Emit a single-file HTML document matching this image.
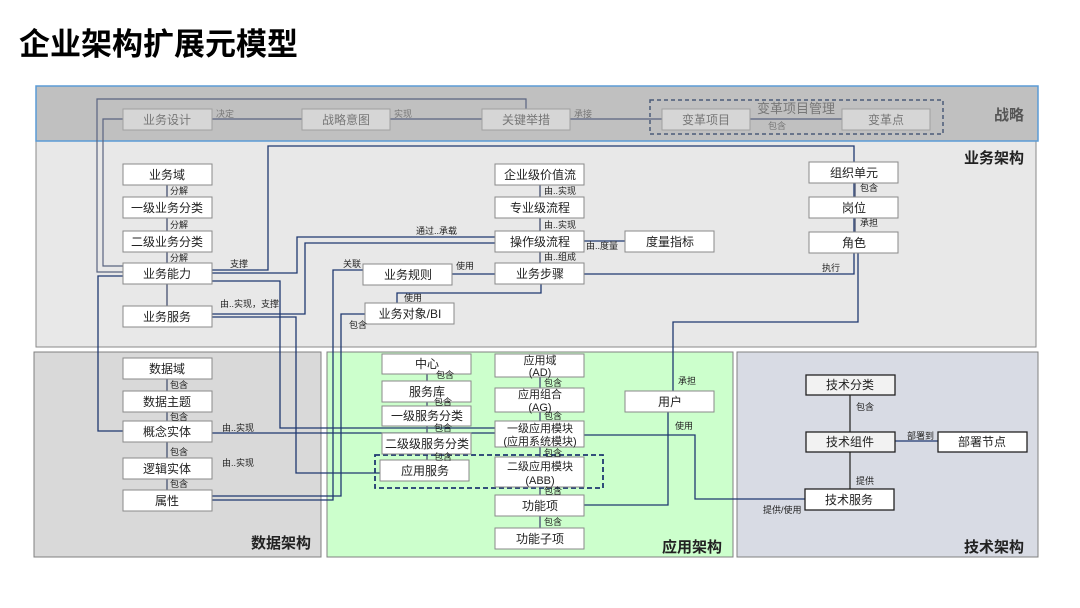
<!DOCTYPE html>
<html><head><meta charset="utf-8"><style>
html,body{margin:0;padding:0;background:#fff;width:1080px;height:608px;overflow:hidden}
text{font-family:"Liberation Sans","Noto Sans CJK SC",sans-serif}
</style></head><body>
<svg width="1080" height="608" viewBox="0 0 1080 608" xmlns="http://www.w3.org/2000/svg">
<text x="19" y="55" font-size="31" font-weight="bold" fill="#000">企业架构扩展元模型</text>

<!-- panels -->
<rect x="36" y="141" width="1000" height="206" fill="#e8e8e8" stroke="#8a8a8a" stroke-width="1"/>
<rect x="36" y="86" width="1002" height="55" fill="#c0c0c0" stroke="#5b9bd5" stroke-width="1.5"/>
<rect x="34" y="352" width="287" height="205" fill="#d9d9d9" stroke="#808080"/>
<rect x="327" y="352" width="406" height="205" fill="#ccffcc" stroke="#808080"/>
<rect x="737" y="352" width="301" height="205" fill="#d8dbe4" stroke="#808080"/>

<g font-size="15" font-weight="bold" fill="#222" text-anchor="end">
<text x="1024" y="120" fill="#555">战略</text>
<text x="1024" y="163">业务架构</text>
<text x="311" y="548">数据架构</text>
<text x="722" y="552">应用架构</text>
<text x="1024" y="552">技术架构</text>
</g>

<!-- strategy connectors -->
<g stroke="#5a6480" stroke-width="1.2" fill="none">
<polyline points="526,109 526,99 97,99 97,272 123,272"/>
<polyline points="123,119 103,119 103,266 123,266"/>
<line x1="212" y1="119" x2="302" y2="119"/>
<line x1="390" y1="119" x2="482" y2="119"/>
<line x1="570" y1="119" x2="662" y2="119"/>
<line x1="750" y1="119" x2="842" y2="119"/>
</g>
<rect x="650" y="100" width="293" height="34" fill="none" stroke="#4a5a78" stroke-width="1.5" stroke-dasharray="4,3"/>

<!-- navy connectors -->
<g stroke="#1f3870" stroke-width="1.3" fill="none">
<polyline points="212,270 268,270 268,146 854,146 854,274 584,274"/>
<polyline points="212,273 297,273 297,237 495,237"/>
<polyline points="212,314 305,314 305,243 495,243"/>
<polyline points="212,281 280,281 280,428 495,428"/>
<polyline points="212,317 296,317 296,473 380,473"/>
<polyline points="123,276 98,276 98,431 123,431"/>
<line x1="212" y1="433" x2="495" y2="433"/>
<polyline points="363,270 333,270 333,500 212,500"/>
<polyline points="365,314 341,314 341,496 212,496"/>
<line x1="452" y1="274" x2="495" y2="274"/>
<polyline points="541,284 541,293 397,293 397,303"/>
<line x1="584" y1="241" x2="625" y2="241"/>
<polyline points="858,253 858,322 673,322 673,391"/>
<polyline points="584,505 668,505 668,412"/>
<polyline points="584,435 695,435 695,499 805,499"/>
<line x1="895" y1="441" x2="938" y2="441"/>
</g>
<g stroke="#5a6480" stroke-width="1.5" fill="none">
<line x1="167" y1="185" x2="167" y2="306"/>
<line x1="540" y1="185" x2="540" y2="263"/>
<line x1="855" y1="183" x2="855" y2="232"/>
<line x1="167" y1="379" x2="167" y2="490"/>
<line x1="427" y1="374" x2="427" y2="460"/>
<line x1="540" y1="377" x2="540" y2="528"/>
</g>
<g stroke="#444" stroke-width="1.5"><line x1="850" y1="394" x2="850" y2="489"/></g>
<rect x="375" y="455" width="228" height="33" fill="none" stroke="#1f3870" stroke-width="1.8" stroke-dasharray="5,3"/>

<!-- strategy boxes -->
<g fill="#d6d6d6" stroke="#a0a0a0">
<rect x="123" y="109" width="89" height="21"/>
<rect x="302" y="109" width="88" height="21"/>
<rect x="482" y="109" width="88" height="21"/>
<rect x="662" y="109" width="88" height="21"/>
<rect x="842" y="109" width="88" height="21"/>
</g>
<g font-size="12" fill="#777" text-anchor="middle">
<text x="167" y="124">业务设计</text>
<text x="346" y="124">战略意图</text>
<text x="526" y="124">关键举措</text>
<text x="706" y="124">变革项目</text>
<text x="886" y="124">变革点</text>
<text x="796" y="113" font-size="13">变革项目管理</text>
</g>
<g font-size="9" fill="#777">
<text x="216" y="117">决定</text><text x="394" y="117">实现</text><text x="574" y="117">承接</text><text x="768" y="129">包含</text>
</g>

<!-- white boxes -->
<g fill="#fff" stroke="#8a8a8a">
<rect x="123" y="164" width="89" height="21"/><rect x="123" y="197" width="89" height="21"/>
<rect x="123" y="231" width="89" height="21"/><rect x="123" y="263" width="89" height="21"/>
<rect x="123" y="306" width="89" height="21"/>
<rect x="495" y="164" width="89" height="21"/><rect x="495" y="197" width="89" height="21"/>
<rect x="495" y="231" width="89" height="21"/><rect x="495" y="263" width="89" height="21"/>
<rect x="625" y="231" width="89" height="21"/>
<rect x="363" y="264" width="89" height="21"/><rect x="365" y="303" width="89" height="21"/>
<rect x="809" y="162" width="89" height="21"/><rect x="809" y="197" width="89" height="21"/>
<rect x="809" y="232" width="89" height="21"/>
<rect x="123" y="358" width="89" height="21"/><rect x="123" y="391" width="89" height="21"/>
<rect x="123" y="421" width="89" height="21"/><rect x="123" y="458" width="89" height="21"/>
<rect x="123" y="490" width="89" height="21"/>
<rect x="382" y="354" width="89" height="20"/><rect x="382" y="381" width="89" height="21"/>
<rect x="382" y="406" width="89" height="20"/><rect x="382" y="433" width="89" height="21"/>
<rect x="380" y="460" width="89" height="21"/>
<rect x="495" y="354" width="89" height="23"/><rect x="495" y="388" width="89" height="24"/>
<rect x="495" y="421" width="89" height="26"/><rect x="495" y="457" width="89" height="30"/>
<rect x="495" y="495" width="89" height="21"/><rect x="495" y="528" width="89" height="21"/>
<rect x="625" y="391" width="89" height="21"/>
</g>
<g fill="#f2f2f2" stroke="#222" stroke-width="1.3">
<rect x="806" y="375" width="89" height="20"/><rect x="806" y="432" width="89" height="20"/>
</g>
<g fill="#fff" stroke="#222" stroke-width="1.3">
<rect x="938" y="432" width="89" height="20"/><rect x="805" y="489" width="89" height="21"/>
</g>

<g font-size="12" fill="#222" text-anchor="middle">
<text x="167" y="179">业务域</text><text x="167" y="212">一级业务分类</text>
<text x="167" y="246">二级业务分类</text><text x="167" y="278">业务能力</text>
<text x="167" y="321">业务服务</text>
<text x="540" y="179">企业级价值流</text><text x="540" y="212">专业级流程</text>
<text x="540" y="246">操作级流程</text><text x="540" y="278">业务步骤</text>
<text x="670" y="246">度量指标</text>
<text x="408" y="279">业务规则</text><text x="410" y="318">业务对象/BI</text>
<text x="854" y="177">组织单元</text><text x="854" y="212">岗位</text><text x="854" y="247">角色</text>
<text x="167" y="373">数据域</text><text x="167" y="406">数据主题</text>
<text x="167" y="436">概念实体</text><text x="167" y="473">逻辑实体</text><text x="167" y="505">属性</text>
<text x="427" y="368">中心</text><text x="427" y="396">服务库</text>
<text x="427" y="420">一级服务分类</text><text x="427" y="448">二级级服务分类</text>
<text x="425" y="475">应用服务</text>
<text x="540" y="364" font-size="11">应用域</text><text x="540" y="376" font-size="11">(AD)</text>
<text x="540" y="398" font-size="11">应用组合</text><text x="540" y="411" font-size="11">(AG)</text>
<text x="540" y="432" font-size="11">一级应用模块</text><text x="540" y="445" font-size="11">(应用系统模块)</text>
<text x="540" y="470" font-size="11">二级应用模块</text><text x="540" y="484" font-size="11">(ABB)</text>
<text x="540" y="510">功能项</text><text x="540" y="543">功能子项</text>
<text x="670" y="406">用户</text>
<text x="850" y="389">技术分类</text><text x="850" y="446">技术组件</text>
<text x="982" y="446">部署节点</text><text x="849" y="504">技术服务</text>
</g>

<g font-size="9" fill="#222">
<text x="170" y="194">分解</text><text x="170" y="228">分解</text><text x="170" y="261">分解</text>
<text x="230" y="267">支撑</text><text x="416" y="234">通过..承载</text>
<text x="220" y="307">由..实现，支撑</text>
<text x="544" y="194">由..实现</text><text x="544" y="228">由..实现</text><text x="544" y="260">由..组成</text>
<text x="586" y="249">由..度量</text>
<text x="343" y="267">关联</text><text x="456" y="269">使用</text>
<text x="404" y="301">使用</text><text x="349" y="328">包含</text>
<text x="860" y="191">包含</text><text x="860" y="226">承担</text><text x="822" y="271">执行</text>
<text x="170" y="388">包含</text><text x="170" y="420">包含</text><text x="170" y="455">包含</text><text x="170" y="487">包含</text>
<text x="222" y="431">由..实现</text><text x="222" y="466">由..实现</text>
<text x="436" y="378">包含</text><text x="434" y="405">包含</text><text x="434" y="431">包含</text><text x="434" y="460">包含</text>
<text x="544" y="386">包含</text><text x="544" y="419">包含</text><text x="544" y="456">包含</text>
<text x="544" y="494">包含</text><text x="544" y="525">包含</text>
<text x="678" y="384">承担</text><text x="675" y="429">使用</text>
<text x="856" y="410">包含</text><text x="856" y="484">提供</text>
<text x="907" y="439">部署到</text><text x="763" y="513">提供/使用</text>
</g>
</svg>
</body></html>
